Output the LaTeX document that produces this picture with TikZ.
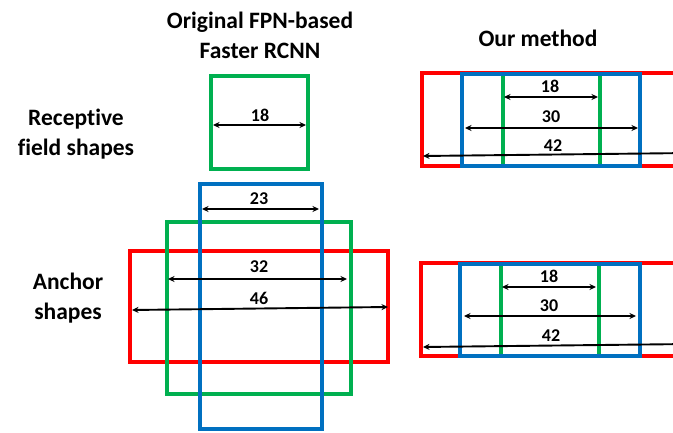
\documentclass[tikz,border=0pt]{standalone}
\usepackage{fontspec}
\setmainfont[Ligatures=NoCommon]{Carlito}
\usetikzlibrary{arrows.meta}
\definecolor{rfred}{HTML}{FF0000}
\definecolor{rfgreen}{HTML}{00B050}
\definecolor{rfblue}{HTML}{0070C0}
\begin{document}
\begin{tikzpicture}[x=1pt,y=-1pt,
 box/.style={line width=4.8pt},
 dim/.style={line width=1.9pt, {Stealth[length=6.5pt,width=6pt]}-{Stealth[length=6.5pt,width=6pt]}},
 lbl/.style={font=\bfseries\fontsize{18}{21}\selectfont, inner sep=0pt},
 head/.style={font=\bfseries\fontsize{23.5}{30}\selectfont, align=center, inner sep=0pt}]
\useasboundingbox (0,0) rectangle (673,433);
\clip (0,0) rectangle (673,433);
% headings
\node[head] (h1) at (260,35) {Original FPN-based\\Faster RCNN};
\node[head] (h2) at (538,38) {Our method};
\node[head] (h3) at (76,134) {Receptive\\field shapes};
\node[head] (h4) at (68,298) {Anchor\\shapes};
% left top: receptive field
\draw[box, rfgreen] (211,76) rectangle (308,169);
\coordinate (a1l) at (213,125); \coordinate (a1r) at (306,125);
\draw[dim] (a1l) -- (a1r);
\node[lbl] (l1) at (260,115) {18};
% left bottom: anchors
\draw[box, rfred] (130,251) rectangle (388,362);
\draw[box, rfgreen] (167,222) rectangle (351,394);
\draw[box, rfblue] (200,184) rectangle (322,429);
\coordinate (a2l) at (202,209); \coordinate (a2r) at (319,209);
\draw[dim] (a2l) -- (a2r);
\node[lbl] (l2) at (259,199) {23};
\coordinate (a3l) at (168,279); \coordinate (a3r) at (347,279);
\draw[dim] (a3l) -- (a3r);
\node[lbl] (l3) at (259,267) {32};
\coordinate (a4l) at (132,310); \coordinate (a4r) at (388,307);
\draw[dim] (a4l) -- (a4r);
\node[lbl] (l4) at (259,298) {46};
% right top
\draw[box, rfred] (422,73) rectangle (700,166);
\draw[box, rfgreen] (503,74) rectangle (600,166);
\draw[box, rfblue] (462,74) rectangle (640,166);
\coordinate (b1l) at (504,97); \coordinate (b1r) at (598,97);
\draw[dim] (b1l) -- (b1r);
\node[lbl] (m1) at (550,86) {18};
\coordinate (b2l) at (465,128); \coordinate (b2r) at (638,128);
\draw[dim] (b2l) -- (b2r);
\node[lbl] (m2) at (551,117) {30};
\coordinate (b3l) at (423,156); \coordinate (b3r) at (690,153);
\draw[dim] (b3l) -- (b3r);
\node[lbl] (m3) at (553,146) {42};
% right bottom
\draw[box, rfred] (421,263) rectangle (700,356);
\draw[box, rfgreen] (501,264) rectangle (599,356);
\draw[box, rfblue] (460,264) rectangle (640,356);
\coordinate (c1l) at (502,287); \coordinate (c1r) at (596,287);
\draw[dim] (c1l) -- (c1r);
\node[lbl] (n1) at (549,276) {18};
\coordinate (c2l) at (464,316); \coordinate (c2r) at (636,316);
\draw[dim] (c2l) -- (c2r);
\node[lbl] (n2) at (549,306) {30};
\coordinate (c3l) at (423,347); \coordinate (c3r) at (690,344);
\draw[dim] (c3l) -- (c3r);
\node[lbl] (n3) at (551,336) {42};
\end{tikzpicture}
\end{document}
